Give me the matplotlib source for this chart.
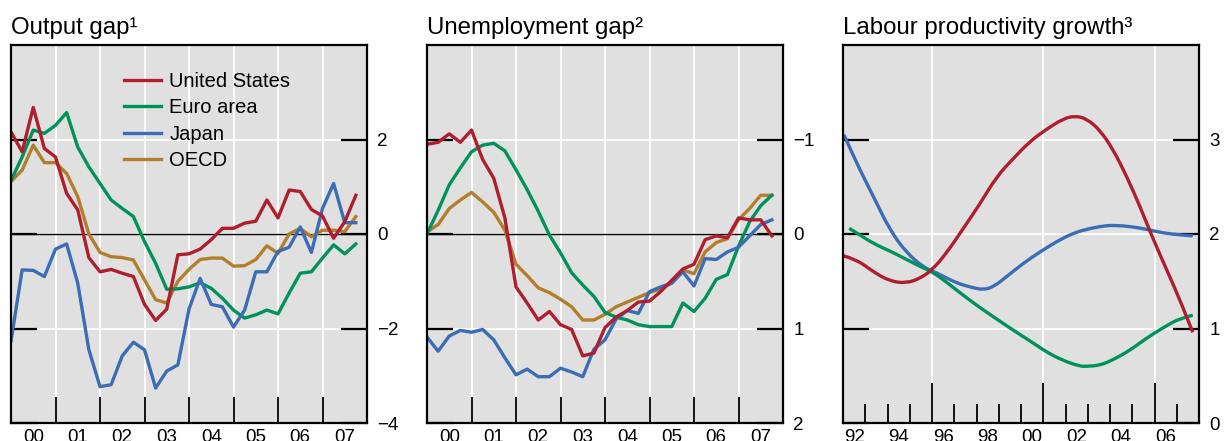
import matplotlib
matplotlib.use("Agg")
import matplotlib.pyplot as plt
from matplotlib.path import Path
from matplotlib.patches import PathPatch
import numpy as np

plt.rcParams['font.family'] = ['Liberation Sans', 'DejaVu Sans']

# ---------------- data ----------------
quarters = 2000 + np.arange(32) * 0.25  # 2000Q1 .. 2007Q4

gap_us = [2.16, 1.74, 2.68, 1.81, 1.63, 0.86, 0.51, -0.50, -0.80, -0.75, -0.83, -0.90,
          -1.49, -1.83, -1.59, -0.44, -0.42, -0.32, -0.12, 0.12, 0.12, 0.23, 0.27, 0.72,
          0.34, 0.93, 0.90, 0.52, 0.38, -0.09, 0.26, 0.82]
gap_euro = [1.13, 1.63, 2.20, 2.13, 2.30, 2.57, 1.84, 1.42, 1.07, 0.72, 0.54, 0.37,
            -0.16, -0.62, -1.17, -1.16, -1.12, -1.03, -1.15, -1.36, -1.61, -1.78, -1.71, -1.61,
            -1.69, -1.25, -0.83, -0.80, -0.51, -0.23, -0.42, -0.21]
gap_japan = [-2.27, -0.76, -0.77, -0.90, -0.32, -0.21, -1.04, -2.45, -3.23, -3.19, -2.58, -2.29,
             -2.45, -3.26, -2.90, -2.77, -1.59, -0.94, -1.49, -1.54, -1.97, -1.61, -0.80, -0.80,
             -0.37, -0.28, 0.15, -0.39, 0.54, 1.07, 0.24, 0.24]
gap_oecd = [1.11, 1.35, 1.88, 1.51, 1.51, 1.28, 0.79, 0.00, -0.39, -0.48, -0.50, -0.55,
            -0.97, -1.39, -1.46, -1.00, -0.75, -0.54, -0.51, -0.51, -0.68, -0.67, -0.54, -0.25,
            -0.41, 0.00, 0.12, -0.06, 0.08, 0.08, 0.05, 0.37]

unemp_us = [-0.95, -0.97, -1.06, -0.97, -1.10, -0.79, -0.59, -0.17, 0.56, 0.73, 0.91, 0.82,
            0.96, 1.01, 1.29, 1.26, 0.99, 0.88, 0.81, 0.72, 0.71, 0.61, 0.49, 0.37,
            0.32, 0.06, 0.02, 0.04, -0.17, -0.15, -0.15, 0.02]
unemp_euro = [0.00, -0.25, -0.52, -0.70, -0.87, -0.94, -0.96, -0.88, -0.68, -0.47, -0.24, 0.01,
              0.20, 0.41, 0.54, 0.66, 0.83, 0.88, 0.91, 0.96, 0.98, 0.98, 0.98, 0.73,
              0.82, 0.68, 0.48, 0.43, 0.13, -0.13, -0.30, -0.41]
unemp_japan = [1.09, 1.24, 1.08, 1.02, 1.04, 1.01, 1.12, 1.31, 1.49, 1.43, 1.51, 1.51,
               1.42, 1.46, 1.51, 1.22, 1.12, 0.90, 0.81, 0.84, 0.61, 0.56, 0.52, 0.40,
               0.55, 0.26, 0.27, 0.19, 0.14, 0.02, -0.10, -0.15]
unemp_oecd = [-0.02, -0.10, -0.27, -0.36, -0.44, -0.34, -0.23, -0.04, 0.32, 0.44, 0.57, 0.62,
              0.69, 0.77, 0.91, 0.91, 0.85, 0.77, 0.72, 0.67, 0.62, 0.58, 0.52, 0.38,
              0.42, 0.19, 0.09, 0.05, -0.15, -0.27, -0.41, -0.41]

prod_us_x = [1992.01, 1992.61, 1993.36, 1994.11, 1994.86, 1995.46, 1996.01, 1996.66, 1997.41,
             1998.16, 1998.91, 1999.66, 2000.40, 2001.15, 2001.90, 2002.43, 2002.95, 2003.55,
             2004.15, 2004.75, 2005.35, 2005.95, 2006.55, 2007.15, 2007.72]
prod_us = [1.77, 1.73, 1.60, 1.50, 1.48, 1.53, 1.62, 1.80, 2.06, 2.32, 2.61, 2.80, 2.98, 3.11,
           3.22, 3.25, 3.22, 3.10, 2.89, 2.61, 2.29, 1.94, 1.62, 1.30, 0.96]
prod_euro_x = [1992.28, 1992.76, 1993.36, 1994.11, 1994.86, 1995.61, 1996.01, 1996.66, 1997.41,
               1998.16, 1998.91, 1999.66, 2000.40, 2001.15, 2001.90, 2002.65, 2002.95, 2003.55,
               2004.15, 2004.90, 2005.65, 2006.40, 2007.15, 2007.72]
prod_euro = [2.06, 1.99, 1.90, 1.82, 1.73, 1.64, 1.60, 1.49, 1.35, 1.22, 1.10, 0.98, 0.87, 0.75,
             0.66, 0.60, 0.60, 0.61, 0.67, 0.77, 0.90, 1.01, 1.11, 1.14]
prod_japan_x = [1992.04, 1992.61, 1993.36, 1994.11, 1994.86, 1995.61, 1996.01, 1996.36, 1997.11,
                1997.86, 1998.31, 1998.76, 1999.36, 2000.10, 2000.85, 2001.60, 2002.35, 2003.10,
                2003.85, 2004.30, 2004.90, 2005.65, 2006.40, 2007.15, 2007.72]
prod_japan = [3.05, 2.75, 2.40, 2.04, 1.80, 1.65, 1.61, 1.57, 1.48, 1.43, 1.41, 1.44, 1.55, 1.69,
              1.81, 1.92, 2.01, 2.06, 2.09, 2.09, 2.08, 2.05, 2.01, 1.99, 1.98]

series_names = ['United States', 'Euro area', 'Japan', 'OECD']
titles = ['Output gap\u00b9', 'Unemployment gap\u00b2', 'Labour productivity growth\u00b3']
q_years = list(range(2000, 2009))
q_labels = ['00', '01', '02', '03', '04', '05', '06', '07']
p_label_years = [1992, 1994, 1996, 1998, 2000, 2002, 2004, 2006]
p_labels = ['92', '94', '96', '98', '00', '02', '04', '06']
p_major = [1996, 2001, 2006]
p_minor = list(range(1993, 2008))

# ---------------- style ----------------
C_US = '#AE1E2E'
C_EU = '#00925A'
C_JP = '#3A6DB6'
C_OECD = '#B27E2C'
BG = '#E0E0E0'
LW = 2.4
TICKFS = 13.5
TITLEFS = 17.3

W, H = 1224, 441
fig = plt.figure(figsize=(W / 100, H / 100), dpi=100)

ax_w = 356 / W
ax_h = 378 / H
bottom = 18 / H
lefts = [11 / W, 427 / W, 843 / W]
axes = [fig.add_axes([l, bottom, ax_w, ax_h]) for l in lefts]


def style(ax, title):
    ax.set_facecolor(BG)
    for s in ax.spines.values():
        s.set_color('black')
        s.set_linewidth(1.6)
    ax.set_axisbelow(True)
    ax.grid(True, which='major', color='white', lw=1.3)
    ax.tick_params(axis='y', which='major', direction='in', length=19, width=1.6,
                   left=True, right=True, labelleft=False, labelright=True,
                   labelsize=TICKFS, pad=7.5)
    ax.tick_params(axis='x', which='major', direction='in', length=19, width=1.3,
                   labelbottom=False, top=False)
    ax.set_title(title, loc='left', fontsize=TITLEFS, pad=8)


def quarterly_xaxis(ax):
    ax.set_xlim(2000, 2008)
    ax.set_xticks(q_years)
    ax.set_xticks([y + 0.5 for y in q_years[:-1]], minor=True)
    ax.set_xticklabels(q_labels, minor=True)
    ax.tick_params(axis='x', which='minor', length=0, labelsize=TICKFS, pad=4.5)


def smooth_line(ax, xs, ys, color, z):
    """Draw a smooth curve through the read points (quadratic Bezier rendering)."""
    pts = np.column_stack([xs, ys])
    verts = [pts[0]]
    codes = [Path.MOVETO]
    for i in range(1, len(pts) - 1):
        mid = (pts[i] + pts[i + 1]) / 2 if i < len(pts) - 2 else pts[i + 1]
        verts += [pts[i], mid]
        codes += [Path.CURVE3, Path.CURVE3]
    patch = PathPatch(Path(verts, codes), facecolor='none', edgecolor=color,
                      lw=LW, zorder=z, capstyle='butt', joinstyle='round')
    ax.add_patch(patch)


# Panel 1: output gap
ax = axes[0]
style(ax, titles[0])
quarterly_xaxis(ax)
ax.set_ylim(-4, 4)
ax.set_yticks([-4, -2, 0, 2])
ax.axhline(0, color='black', lw=1.0, zorder=1.5)
l_oecd, = ax.plot(quarters, gap_oecd, color=C_OECD, lw=LW, zorder=2)
l_eu, = ax.plot(quarters, gap_euro, color=C_EU, lw=LW, zorder=2.1)
l_jp, = ax.plot(quarters, gap_japan, color=C_JP, lw=LW, zorder=2.2)
l_us, = ax.plot(quarters, gap_us, color=C_US, lw=LW, zorder=2.3)
ax.legend([l_us, l_eu, l_jp, l_oecd], series_names, loc='upper left',
          bbox_to_anchor=(0.317, 0.929), frameon=False, fontsize=14.5,
          handlelength=1.85, handletextpad=0.4, labelspacing=0.37,
          borderpad=0, borderaxespad=0)

# Panel 2: unemployment gap (inverted)
ax = axes[1]
style(ax, titles[1])
quarterly_xaxis(ax)
ax.set_ylim(2, -2)
ax.set_yticks([-1, 0, 1, 2])
ax.axhline(0, color='black', lw=1.0, zorder=1.5)
ax.plot(quarters, unemp_oecd, color=C_OECD, lw=LW, zorder=2)
ax.plot(quarters, unemp_euro, color=C_EU, lw=LW, zorder=2.1)
ax.plot(quarters, unemp_japan, color=C_JP, lw=LW, zorder=2.2)
ax.plot(quarters, unemp_us, color=C_US, lw=LW, zorder=2.3)

# Panel 3: labour productivity growth
ax = axes[2]
style(ax, titles[2])
ax.set_xlim(1992, 2008)
ax.set_ylim(0, 4)
ax.set_yticks([0, 1, 2, 3])
ax.set_xticks(p_major)
ax.set_xticks(p_minor, minor=True)
ax.tick_params(axis='x', which='major', length=29, width=1.3)
ax.tick_params(axis='x', which='minor', direction='in', length=14, width=1.3,
               labelbottom=False)
sec = ax.secondary_xaxis('bottom')
sec.set_xticks([y + 0.5 for y in p_label_years])
sec.set_xticklabels(p_labels)
sec.tick_params(axis='x', length=0, labelsize=TICKFS, pad=4.5)
sec.spines['bottom'].set_visible(False)
smooth_line(ax, prod_japan_x, prod_japan, C_JP, 2)
smooth_line(ax, prod_euro_x, prod_euro, C_EU, 2.1)
smooth_line(ax, prod_us_x, prod_us, C_US, 2.3)

fig.savefig('out.png', dpi=100)
